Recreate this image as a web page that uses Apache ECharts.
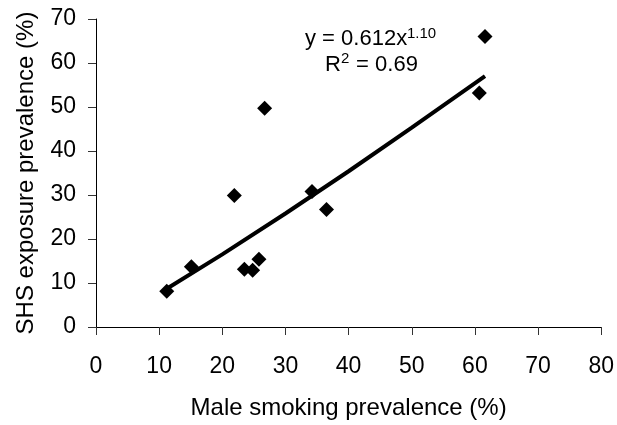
<!DOCTYPE html>
<html>
<head>
<meta charset="utf-8">
<script src="https://cdn.jsdelivr.net/npm/echarts@6/dist/echarts.min.js"></script>
<style>
html,body{margin:0;padding:0;background:#fff;}
#chart{width:617px;height:425px;}
</style>
</head>
<body>
<div id="chart"></div>
<script>
// Male smoking prevalence (%) vs SHS exposure prevalence (%)
var maleSmoking = [11.2, 15.1, 21.9, 26.7, 23.5, 24.8, 25.8, 34.2, 36.5, 60.7, 61.6];
var shsExposure = [8.1, 13.7, 29.9, 49.7, 13.1, 12.9, 15.4, 30.8, 26.7, 53.2, 66.0];
// Power trend line (y = 0.612x^1.10)
var trendX = [11.2, 20, 30, 40, 50, 61.6];
var trendY = [8.7, 16.5, 25.8, 35.4, 45.3, 57.0];
var xTicks = [0, 80, 10];
var yTicks = [0, 70, 10];
var xTitle = 'Male smoking prevalence (%)';
var yTitle = 'SHS exposure prevalence (%)';
var eqMain = 'y = 0.612x';
var eqSup = '1.10';
var r2Main = 'R';
var r2Sup = '2';
var r2Rest = ' = 0.69';

var FONT = '"Liberation Sans", Arial, sans-serif';
var chart = echarts.init(document.getElementById('chart'), null, {renderer: 'canvas'});

var points = maleSmoking.map(function (x, i) { return [x, shsExposure[i]]; });
var trend = trendX.map(function (x, i) { return [x, trendY[i]]; });

var axisCommon = {
  axisLine: {show: true, lineStyle: {color: '#000', width: 1}},
  axisTick: {show: true, inside: false, length: 8, lineStyle: {color: '#333', width: 1}},
  splitLine: {show: false},
  nameLocation: 'middle',
  nameTextStyle: {fontFamily: FONT, fontSize: 24, color: '#000'},
  axisLabel: {fontFamily: FONT, fontSize: 23, color: '#000'}
};

chart.setOption({
  animation: false,
  backgroundColor: '#fff',
  grid: {left: 96, right: 13, top: 19, bottom: 96, containLabel: false},
  xAxis: Object.assign({}, axisCommon, {
    type: 'value', min: xTicks[0], max: xTicks[1], interval: xTicks[2],
    name: xTitle, nameGap: 69,
    axisLabel: Object.assign({}, axisCommon.axisLabel, {margin: 28})
  }),
  yAxis: Object.assign({}, axisCommon, {
    type: 'value', min: yTicks[0], max: yTicks[1], interval: yTicks[2],
    name: yTitle, nameGap: 58, nameRotate: 90,
    axisLabel: Object.assign({}, axisCommon.axisLabel, {margin: 20})
  }),
  series: [
    {
      type: 'line', data: trend, showSymbol: false, symbol: 'none',
      smooth: false, lineStyle: {color: '#000', width: 4}, z: 2
    },
    {
      type: 'scatter', data: points, symbol: 'diamond', symbolSize: 15,
      itemStyle: {color: '#000', opacity: 1}, z: 3
    }
  ],
  graphic: [
    {type: 'text', left: 305, top: 28, style: {text: eqMain, font: '22px ' + FONT, fill: '#000'}},
    {type: 'text', left: 407, top: 26, style: {text: eqSup, font: '15px ' + FONT, fill: '#000'}},
    {type: 'text', left: 325, top: 54, style: {text: r2Main, font: '22px ' + FONT, fill: '#000'}},
    {type: 'text', left: 341, top: 51, style: {text: r2Sup, font: '15px ' + FONT, fill: '#000'}},
    {type: 'text', left: 350, top: 54, style: {text: r2Rest, font: '22px ' + FONT, fill: '#000'}}
  ]
});
</script>
</body>
</html>
